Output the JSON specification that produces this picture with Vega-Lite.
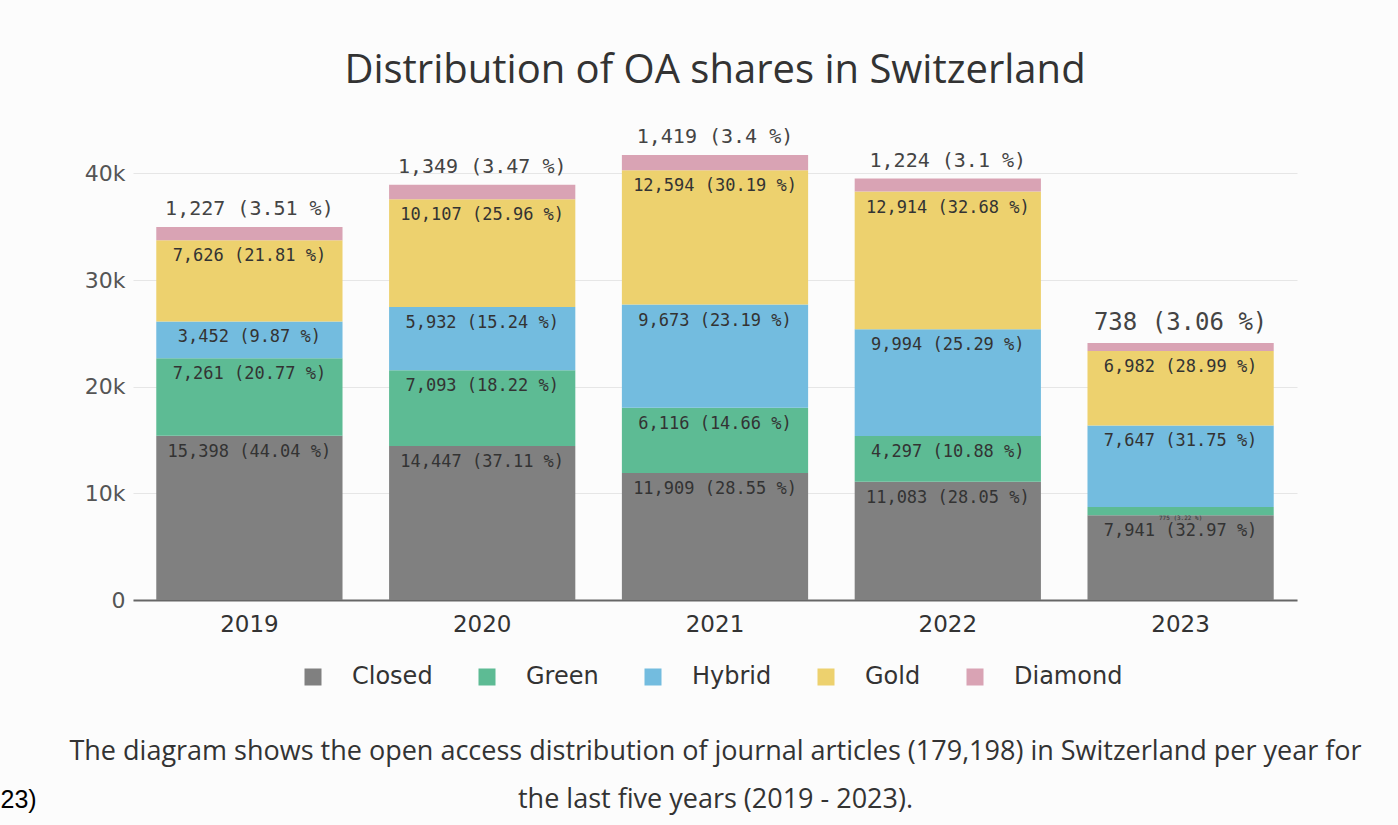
{
  "$schema": "https://vega.github.io/schema/vega-lite/v6.json",
  "width": 1164,
  "height": 480,
  "autosize": {"type": "none"},
  "padding": {"left": 133, "top": 120, "right": 101, "bottom": 225},
  "background": "#fcfcfc",
  "title": {
    "text": "Distribution of OA shares in Switzerland",
    "font": "Open Sans",
    "fontSize": 40,
    "fontWeight": "normal",
    "color": "#333333",
    "anchor": "middle",
    "offset": 29
  },
  "data": {
    "values": [
      {"year": "2019", "cat": "Closed", "k": 1, "n": 15398, "label": "15,398 (44.04 %)"},
      {"year": "2019", "cat": "Green", "k": 2, "n": 7261, "label": "7,261 (20.77 %)"},
      {"year": "2019", "cat": "Hybrid", "k": 3, "n": 3452, "label": "3,452 (9.87 %)"},
      {"year": "2019", "cat": "Gold", "k": 4, "n": 7626, "label": "7,626 (21.81 %)"},
      {"year": "2019", "cat": "Diamond", "k": 5, "n": 1227, "label": "1,227 (3.51 %)"},
      {"year": "2020", "cat": "Closed", "k": 1, "n": 14447, "label": "14,447 (37.11 %)"},
      {"year": "2020", "cat": "Green", "k": 2, "n": 7093, "label": "7,093 (18.22 %)"},
      {"year": "2020", "cat": "Hybrid", "k": 3, "n": 5932, "label": "5,932 (15.24 %)"},
      {"year": "2020", "cat": "Gold", "k": 4, "n": 10107, "label": "10,107 (25.96 %)"},
      {"year": "2020", "cat": "Diamond", "k": 5, "n": 1349, "label": "1,349 (3.47 %)"},
      {"year": "2021", "cat": "Closed", "k": 1, "n": 11909, "label": "11,909 (28.55 %)"},
      {"year": "2021", "cat": "Green", "k": 2, "n": 6116, "label": "6,116 (14.66 %)"},
      {"year": "2021", "cat": "Hybrid", "k": 3, "n": 9673, "label": "9,673 (23.19 %)"},
      {"year": "2021", "cat": "Gold", "k": 4, "n": 12594, "label": "12,594 (30.19 %)"},
      {"year": "2021", "cat": "Diamond", "k": 5, "n": 1419, "label": "1,419 (3.4 %)"},
      {"year": "2022", "cat": "Closed", "k": 1, "n": 11083, "label": "11,083 (28.05 %)"},
      {"year": "2022", "cat": "Green", "k": 2, "n": 4297, "label": "4,297 (10.88 %)"},
      {"year": "2022", "cat": "Hybrid", "k": 3, "n": 9994, "label": "9,994 (25.29 %)"},
      {"year": "2022", "cat": "Gold", "k": 4, "n": 12914, "label": "12,914 (32.68 %)"},
      {"year": "2022", "cat": "Diamond", "k": 5, "n": 1224, "label": "1,224 (3.1 %)"},
      {"year": "2023", "cat": "Closed", "k": 1, "n": 7941, "label": "7,941 (32.97 %)"},
      {"year": "2023", "cat": "Green", "k": 2, "n": 775, "label": "775 (3.22 %)"},
      {"year": "2023", "cat": "Hybrid", "k": 3, "n": 7647, "label": "7,647 (31.75 %)"},
      {"year": "2023", "cat": "Gold", "k": 4, "n": 6982, "label": "6,982 (28.99 %)"},
      {"year": "2023", "cat": "Diamond", "k": 5, "n": 738, "label": "738 (3.06 %)"}
    ]
  },
  "transform": [
    {"stack": "n", "groupby": ["year"], "sort": [{"field": "k", "order": "ascending"}], "as": ["y0", "y1"]}
  ],
  "encoding": {
    "x": {
      "field": "year",
      "type": "nominal",
      "scale": {"paddingInner": 0.2, "paddingOuter": 0.1},
      "axis": {
        "labelAngle": 0,
        "labelFont": "DejaVu Sans",
        "labelFontSize": 23,
        "labelColor": "#333333",
        "labelPadding": 13,
        "ticks": false,
        "domainColor": "#666666",
        "domainWidth": 2,
        "title": ["The diagram shows the open access distribution of journal articles (179,198) in Switzerland per year for", "the last five years (2019 - 2023)."],
        "titleFont": "Open Sans",
        "titleFontSize": 27,
        "titleFontWeight": "normal",
        "titleColor": "#333333",
        "titleLineHeight": 48,
        "titlePadding": 102
      }
    }
  },
  "layer": [
    {
      "mark": {"type": "bar"},
      "encoding": {
        "y": {
          "field": "y0",
          "type": "quantitative",
          "scale": {"domain": [0, 45000], "nice": false},
          "axis": {
            "values": [0, 10000, 20000, 30000, 40000],
            "labelExpr": "datum.value == 0 ? '0' : format(datum.value / 1000, 'd') + 'k'",
            "labelFont": "DejaVu Sans",
            "labelFontSize": 22,
            "labelColor": "#555555",
            "labelPadding": 8,
            "ticks": false,
            "domain": false,
            "gridColor": "#e6e6e6",
            "title": "23)",
            "titleAngle": 0,
            "titleX": -133,
            "titleY": 687,
            "titleAlign": "left",
            "titleBaseline": "alphabetic",
            "titleFont": "Liberation Sans",
            "titleFontSize": 25,
            "titleFontWeight": "normal",
            "titleColor": "#000000"
          }
        },
        "y2": {"field": "y1"},
        "color": {
          "field": "cat",
          "type": "nominal",
          "sort": ["Closed", "Green", "Hybrid", "Gold", "Diamond"],
          "scale": {
            "domain": ["Closed", "Green", "Hybrid", "Gold", "Diamond"],
            "range": ["#808080", "#5dbb94", "#73bcdf", "#edd16e", "#d9a3b4"]
          },
          "legend": {
            "title": null,
            "orient": "none",
            "direction": "horizontal",
            "legendX": 168,
            "legendY": 545,
            "symbolType": "square",
            "symbolSize": 289,
            "symbolStrokeWidth": 0,
            "symbolOpacity": 1,
            "labelFont": "DejaVu Sans",
            "labelFontSize": 24,
            "labelColor": "#333333",
            "labelOffset": 27,
            "columnPadding": 42
          }
        }
      }
    },
    {
      "transform": [{"filter": "datum.cat != 'Diamond'"}],
      "mark": {"type": "text", "baseline": "top", "dy": 8, "font": "DejaVu Sans Mono", "color": "#333333"},
      "encoding": {
        "y": {"field": "y1", "type": "quantitative"},
        "text": {"field": "label"},
        "size": {
          "condition": {"test": "datum.year == '2023' && datum.cat == 'Green'", "value": 6},
          "value": 17
        }
      }
    },
    {
      "transform": [{"filter": "datum.cat == 'Diamond'"}],
      "mark": {"type": "text", "baseline": "bottom", "dy": -8, "font": "DejaVu Sans Mono", "color": "#444444"},
      "encoding": {
        "y": {"field": "y1", "type": "quantitative"},
        "text": {"field": "label"},
        "size": {
          "condition": {"test": "datum.year == '2023'", "value": 24},
          "value": 20
        }
      }
    }
  ],
  "config": {"view": {"stroke": null}}
}
